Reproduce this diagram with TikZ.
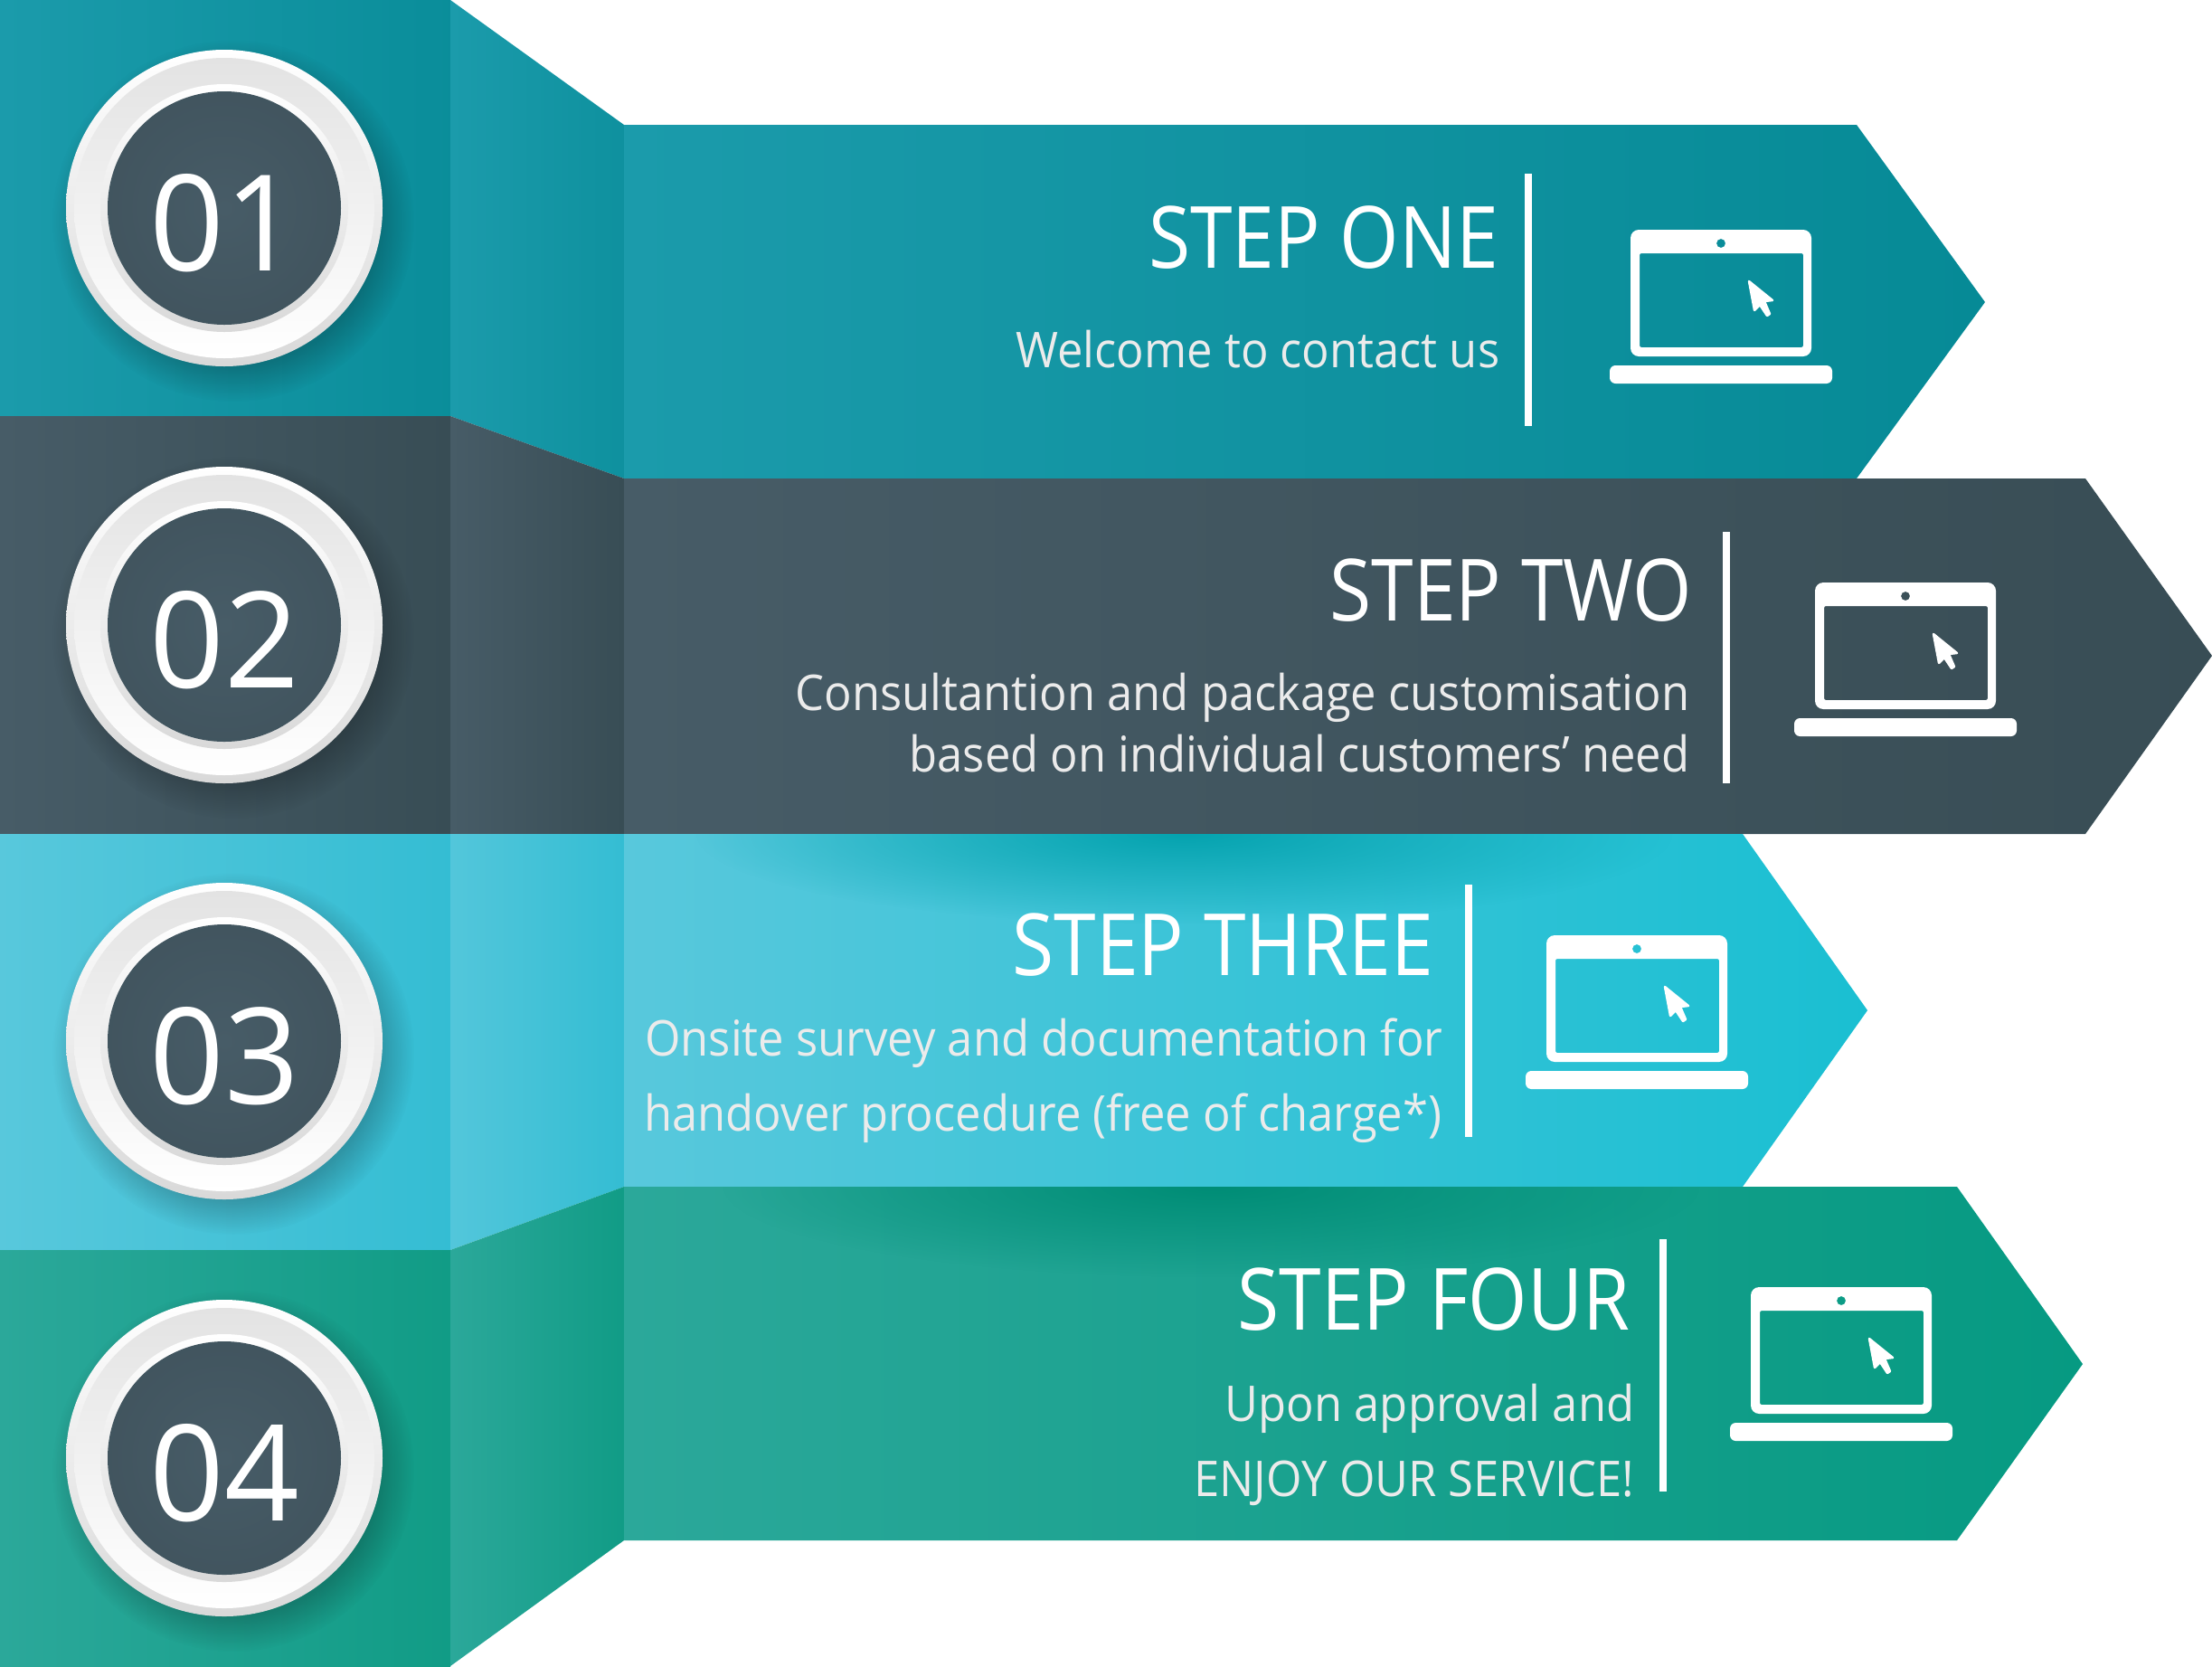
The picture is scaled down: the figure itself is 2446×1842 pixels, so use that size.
\documentclass[tikz,border=0pt]{standalone}
\usepackage{xcolor}
\usepackage{fontspec}
\setmainfont{Open Sans}
\newfontfamily\headfont[FakeStretch=0.885]{Open Sans}
\newfontfamily\subfont[FakeStretch=0.93]{Open Sans}
\newfontfamily\numfont[FakeStretch=0.98]{Open Sans}
\usetikzlibrary{fadings}

\definecolor{tealL}{HTML}{1B9BAB}
\definecolor{tealR}{HTML}{068A96}
\definecolor{slateL}{HTML}{475C67}
\definecolor{slateR}{HTML}{384D55}
\definecolor{skyL}{HTML}{58C8DC}
\definecolor{skyR}{HTML}{1ABFD2}
\definecolor{skyM}{HTML}{34BDD3}
\definecolor{greenL}{HTML}{2BA89A}
\definecolor{greenR}{HTML}{069A82}
\definecolor{greenM}{HTML}{119C86}
\definecolor{skyShade}{HTML}{05A3AF}
\definecolor{greenShade}{HTML}{008D76}
\tikzfading[name=softglow, inner color=transparent!0, outer color=transparent!100]

\begin{document}
\begin{tikzpicture}[x=0.01cm, y=-0.01cm,
    heading/.style={anchor=base east, inner sep=0pt, text=white, font=\headfont\fontsize{27}{30}\selectfont},
    subtext/.style={anchor=base east, inner sep=0pt, text=white!92!black, font=\subfont\fontsize{15.5}{17}\selectfont},
    numeral/.style={anchor=base west, inner sep=0pt, text=white, font=\numfont\fontsize{42}{44}\selectfont},
    divider/.style={white, line width=2.2pt},
    badge/.pic={
      \fill[black, opacity=0.22, path fading=circle with fuzzy edge 20 percent] (10,14) circle[radius=200];
      \shade[top color=white, bottom color=black!15] (0,0) circle[radius=175];
      \shade[top color=black!11, middle color=black!3, bottom color=white] (0,0) circle[radius=166];
      \shade[top color=white, bottom color=black!15] (0,0) circle[radius=137];
      \shade[inner color=slateL, outer color=slateL!92!black] (0,0) circle[radius=129];
    },
    laptop/.pic={
      \fill[white, even odd rule, rounded corners=2.6pt] (-100,-80) rectangle (100,60)
        [rounded corners=0.6pt] (-90,-54) rectangle (91,50)
        [sharp corners] (0,-65) circle[radius=5];
      \fill[white, rounded corners=1.8pt] (-123,70) rectangle (123,90);
      \filldraw[white, line width=0.7pt, line join=round] (31,-23) -- (57,-2) -- (48,-1) -- (54,13)
        -- (51,15) -- (43,3) -- (37,9) -- cycle;
    }]
  \useasboundingbox (0,0) rectangle (2446,1842);

  % left blocks
  \shade[left color=tealL, middle color=tealL, right color=tealR!80!tealL] (0,0) rectangle (498,460);
  \shade[left color=slateL, middle color=slateL!70!slateR, right color=slateR] (0,460) rectangle (498,922);
  \shade[left color=skyL, middle color=skyM!85!skyL, right color=skyM] (0,922) rectangle (498,1382);
  \shade[left color=greenL, middle color=greenM!70!greenL, right color=greenM] (0,1382) rectangle (498,1842);

  % folds
  \shade[left color=tealL, middle color=tealL, right color=tealR!60!tealL] (498,0) -- (690,138) -- (690,529) -- (498,460) -- cycle;
  \shade[left color=slateL, right color=slateR] (498,460) -- (690,529) -- (690,922) -- (498,922) -- cycle;
  \shade[left color=skyL!85!skyM, right color=skyM] (498,922) -- (690,922) -- (690,1312) -- (498,1382) -- cycle;
  \shade[left color=greenL, right color=greenM] (498,1382) -- (690,1312) -- (690,1703) -- (498,1842) -- cycle;

  % arrows
  \shade[left color=tealL, middle color=tealL!80!tealR, right color=tealR] (690,138) -- (2053,138) -- (2195,334) -- (2053,529) -- (690,529) -- cycle;
  \shade[left color=slateL, right color=slateR] (690,529) -- (2306,529) -- (2446,725) -- (2306,922) -- (690,922) -- cycle;
  \shade[left color=skyL, right color=skyR] (690,922) -- (1927,922) -- (2065,1117) -- (1927,1312) -- (690,1312) -- cycle;
  \shade[left color=greenL, right color=greenR] (690,1312) -- (2164,1312) -- (2303,1508) -- (2164,1703) -- (690,1703) -- cycle;

  % shadows under the upper arrows
  \begin{scope}
    \clip (690,922) rectangle (1927,1100);
    \fill[skyShade, path fading=softglow] (1310,922) ellipse[x radius=540, y radius=100];
  \end{scope}
  \begin{scope}
    \clip (690,1312) rectangle (2164,1490);
    \fill[greenShade, path fading=softglow] (1340,1312) ellipse[x radius=540, y radius=100];
  \end{scope}

  % round badges
  \pic (badge1) at (248,230) {badge};
  \pic (badge2) at (248,691) {badge};
  \pic (badge3) at (248,1151) {badge};
  \pic (badge4) at (248,1612) {badge};
  \node[numeral] (num1) at (165,299) {01};
  \node[numeral] (num2) at (165,760) {02};
  \node[numeral] (num3) at (165,1220) {03};
  \node[numeral] (num4) at (165,1681) {04};

  % texts
  \node[heading] (head1) at (1658,296) {STEP ONE};
  \node[subtext] (sub1) at (1659,406) {Welcome to contact us};
  \node[heading] (head2) at (1872,686) {STEP TWO};
  \node[subtext] (sub2a) at (1869,785) {Consultantion and package customisation};
  \node[subtext] (sub2b) at (1869,853) {based on individual customers’ need};
  \node[heading] (head3) at (1586,1078) {STEP THREE};
  \node[subtext] (sub3a) at (1596,1167) {Onsite survey and documentation for};
  \node[subtext] (sub3b) at (1595,1250) {handover procedure (free of charge*)};
  \node[heading] (head4) at (1803,1470) {STEP FOUR};
  \node[subtext] (sub4a) at (1808,1571) {Upon approval and};
  \node[subtext] (sub4b) at (1808,1654) {ENJOY OUR SERVICE!};

  % dividers
  \draw[divider] (1690,192) -- (1690,471);
  \draw[divider] (1909,588) -- (1909,866);
  \draw[divider] (1624,978) -- (1624,1257);
  \draw[divider] (1839,1370) -- (1839,1649);

  % laptops
  \pic (lap1) at (1903,334) {laptop};
  \pic (lap2) at (2107,724) {laptop};
  \pic (lap3) at (1810,1114) {laptop};
  \pic (lap4) at (2036,1503) {laptop};
\end{tikzpicture}
\end{document}
